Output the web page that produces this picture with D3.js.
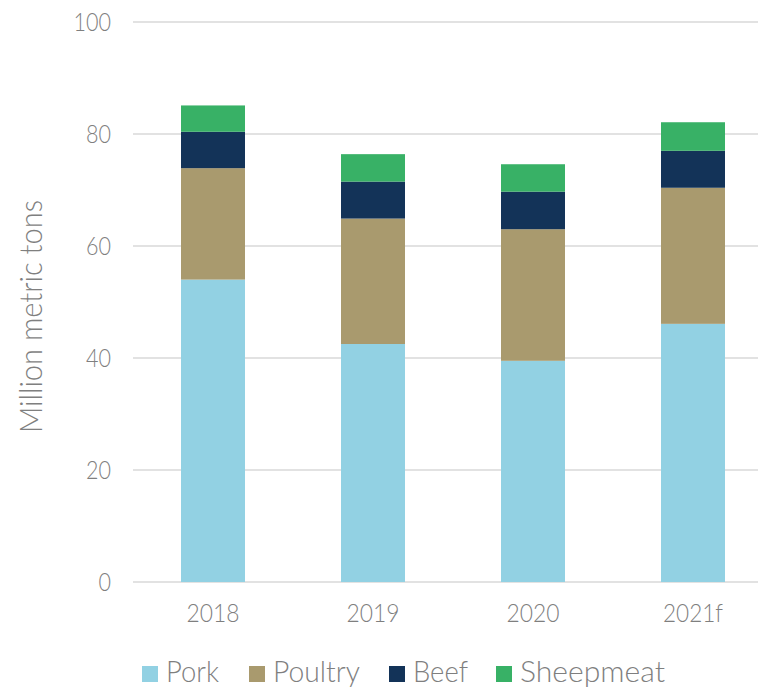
<!DOCTYPE html>
<html><head><meta charset="utf-8">
<script src="https://cdn.jsdelivr.net/npm/d3@7"></script>
<style>
html,body{margin:0;padding:0;background:#fff;}
text{font-family:"Lato","Open Sans",sans-serif;font-weight:300;}
</style></head>
<body>
<svg id="chart" width="760" height="689"></svg>
<script>
const categories = ["2018", "2019", "2020", "2021f"];
const seriesNames = ["Pork", "Poultry", "Beef", "Sheepmeat"];
const pork = [54.0, 42.5, 39.5, 46.1];
const poultry = [19.9, 22.4, 23.5, 24.3];
const beef = [6.5, 6.6, 6.7, 6.6];
const sheepmeat = [4.7, 4.9, 4.9, 5.1];
const yTicks = [0, 20, 40, 60, 80, 100];
const colors = ["#92D1E3", "#A99A6E", "#133358", "#38B166"];

const rows = categories.map((c, i) => ({cat: c, Pork: pork[i], Poultry: poultry[i], Beef: beef[i], Sheepmeat: sheepmeat[i]}));
const stacked = d3.stack().keys(seriesNames)(rows);

const svg = d3.select("#chart");
const x = d3.scaleBand().domain(categories).range([133, 773]).paddingInner(0.6).paddingOuter(0.3);
const y = d3.scaleLinear().domain([0, 100]).range([582, 22]);

function fit(sel, perText) {
  sel.each(function() {
    const t = d3.select(this);
    t.attr("textLength", perText(t.text())).attr("lengthAdjust", "spacingAndGlyphs");
  });
}

// gridlines
svg.append("g").selectAll("line").data(yTicks).join("line")
  .attr("x1", 133).attr("x2", 758)
  .attr("y1", d => y(d)).attr("y2", d => y(d))
  .attr("stroke", "#d9d9d9").attr("stroke-width", 1.5);

// y tick labels
const yl = svg.append("g").selectAll("text").data(yTicks).join("text")
  .attr("x", 111).attr("y", d => y(d)).attr("dy", "0.35em")
  .attr("text-anchor", "end").attr("font-size", 26).attr("fill", "#7f7f7f")
  .text(d => d);
fit(yl, s => s.length * 12.5);

// bars
const bw = 64;
svg.append("g").selectAll("g").data(stacked).join("g")
  .attr("fill", (d, i) => colors[i])
  .selectAll("rect").data(d => d).join("rect")
  .attr("x", d => x(d.data.cat) + x.bandwidth() / 2 - bw / 2)
  .attr("width", bw)
  .attr("y", d => y(d[1]))
  .attr("height", d => y(d[0]) - y(d[1]));

// x labels
const xl = svg.append("g").selectAll("text").data(categories).join("text")
  .attr("x", d => x(d) + x.bandwidth() / 2).attr("y", 621.5)
  .attr("text-anchor", "middle").attr("font-size", 25.5).attr("fill", "#7f7f7f")
  .text(d => d);
fit(xl, s => s === "2021f" ? 60 : 53);

// y axis title
svg.append("text")
  .attr("transform", "translate(41.5,316.5) rotate(-90)")
  .attr("text-anchor", "middle").attr("font-size", 30.5).attr("fill", "#7f7f7f")
  .attr("textLength", 233).attr("lengthAdjust", "spacingAndGlyphs")
  .text("Million metric tons");

// legend
const legX = [142, 249, 389, 496];
const legW = [53, 87, 55, 145];
const leg = svg.append("g").selectAll("g").data(seriesNames).join("g")
  .attr("transform", (d, i) => `translate(${legX[i]},0)`);
leg.append("rect").attr("x", 0).attr("y", 666).attr("width", 16).attr("height", 16)
  .attr("fill", (d, i) => colors[i]);
leg.append("text").attr("x", 24).attr("y", 682.3).attr("font-size", 28.7).attr("fill", "#7f7f7f")
  .attr("textLength", (d, i) => legW[i]).attr("lengthAdjust", "spacingAndGlyphs")
  .text(d => d);
</script>
</body></html>
